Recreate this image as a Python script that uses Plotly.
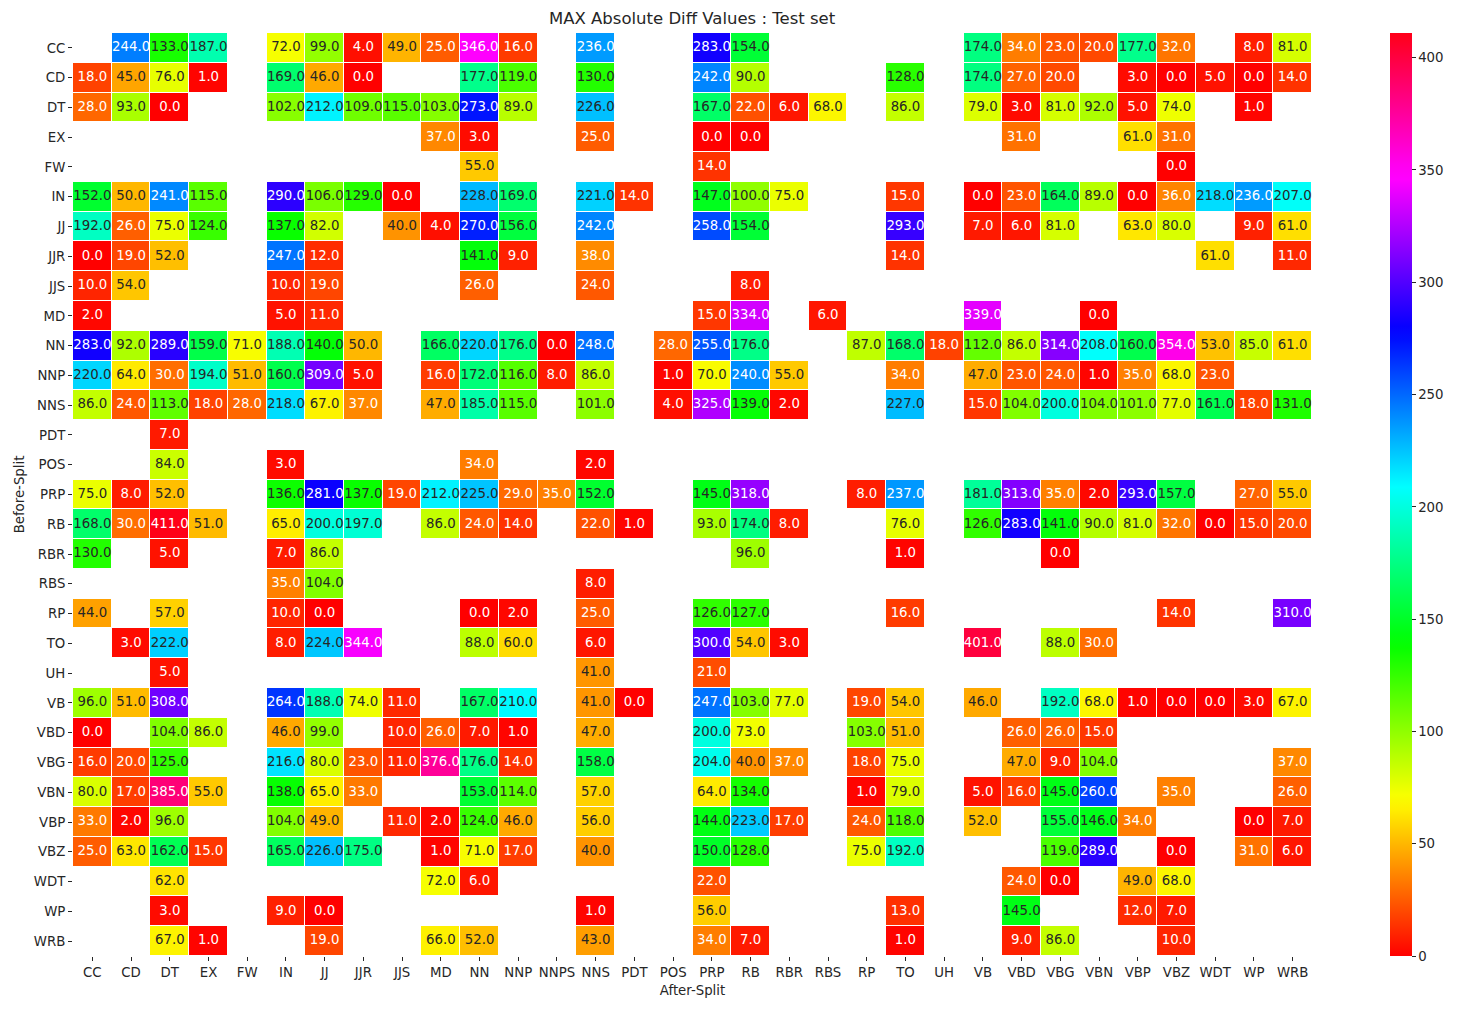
import numpy as np
import plotly.graph_objects as go

# ---------------- data ----------------
after_split = ["CC", "CD", "DT", "EX", "FW", "IN", "JJ", "JJR", "JJS", "MD", "NN", "NNP", "NNPS",
               "NNS", "PDT", "POS", "PRP", "RB", "RBR", "RBS", "RP", "TO", "UH", "VB", "VBD",
               "VBG", "VBN", "VBP", "VBZ", "WDT", "WP", "WRB"]
before_split = ["CC", "CD", "DT", "EX", "FW", "IN", "JJ", "JJR", "JJS", "MD", "NN", "NNP", "NNS",
                "PDT", "POS", "PRP", "RB", "RBR", "RBS", "RP", "TO", "UH", "VB", "VBD", "VBG",
                "VBN", "VBP", "VBZ", "WDT", "WP", "WRB"]

row_CC = {"CD": 244, "DT": 133, "EX": 187, "IN": 72, "JJ": 99, "JJR": 4, "JJS": 49, "MD": 25, "NN": 346,
          "NNP": 16, "NNS": 236, "PRP": 283, "RB": 154, "VB": 174, "VBD": 34, "VBG": 23, "VBN": 20,
          "VBP": 177, "VBZ": 32, "WP": 8, "WRB": 81}
row_CD = {"CC": 18, "CD": 45, "DT": 76, "EX": 1, "IN": 169, "JJ": 46, "JJR": 0, "NN": 177, "NNP": 119,
          "NNS": 130, "PRP": 242, "RB": 90, "TO": 128, "VB": 174, "VBD": 27, "VBG": 20, "VBP": 3,
          "VBZ": 0, "WDT": 5, "WP": 0, "WRB": 14}
row_DT = {"CC": 28, "CD": 93, "DT": 0, "IN": 102, "JJ": 212, "JJR": 109, "JJS": 115, "MD": 103, "NN": 273,
          "NNP": 89, "NNS": 226, "PRP": 167, "RB": 22, "RBR": 6, "RBS": 68, "TO": 86, "VB": 79, "VBD": 3,
          "VBG": 81, "VBN": 92, "VBP": 5, "VBZ": 74, "WP": 1}
row_EX = {"MD": 37, "NN": 3, "NNS": 25, "PRP": 0, "RB": 0, "VBD": 31, "VBP": 61, "VBZ": 31}
row_FW = {"NN": 55, "PRP": 14, "VBZ": 0}
row_IN = {"CC": 152, "CD": 50, "DT": 241, "EX": 115, "IN": 290, "JJ": 106, "JJR": 129, "JJS": 0, "NN": 228,
          "NNP": 169, "NNS": 221, "PDT": 14, "PRP": 147, "RB": 100, "RBR": 75, "TO": 15, "VB": 0,
          "VBD": 23, "VBG": 164, "VBN": 89, "VBP": 0, "VBZ": 36, "WDT": 218, "WP": 236, "WRB": 207}
row_JJ = {"CC": 192, "CD": 26, "DT": 75, "EX": 124, "IN": 137, "JJ": 82, "JJS": 40, "MD": 4, "NN": 270,
          "NNP": 156, "NNS": 242, "PRP": 258, "RB": 154, "TO": 293, "VB": 7, "VBD": 6, "VBG": 81,
          "VBP": 63, "VBZ": 80, "WP": 9, "WRB": 61}
row_JJR = {"CC": 0, "CD": 19, "DT": 52, "IN": 247, "JJ": 12, "NN": 141, "NNP": 9, "NNS": 38, "TO": 14,
           "WDT": 61, "WRB": 11}
row_JJS = {"CC": 10, "CD": 54, "IN": 10, "JJ": 19, "NN": 26, "NNS": 24, "RB": 8}
row_MD = {"CC": 2, "IN": 5, "JJ": 11, "PRP": 15, "RB": 334, "RBS": 6, "VB": 339, "VBN": 0}
row_NN = {"CC": 283, "CD": 92, "DT": 289, "EX": 159, "FW": 71, "IN": 188, "JJ": 140, "JJR": 50, "MD": 166,
          "NN": 220, "NNP": 176, "NNPS": 0, "NNS": 248, "POS": 28, "PRP": 255, "RB": 176, "RP": 87,
          "TO": 168, "UH": 18, "VB": 112, "VBD": 86, "VBG": 314, "VBN": 208, "VBP": 160, "VBZ": 354,
          "WDT": 53, "WP": 85, "WRB": 61}
row_NNP = {"CC": 220, "CD": 64, "DT": 30, "EX": 194, "FW": 51, "IN": 160, "JJ": 309, "JJR": 5, "MD": 16,
           "NN": 172, "NNP": 116, "NNPS": 8, "NNS": 86, "POS": 1, "PRP": 70, "RB": 240, "RBR": 55,
           "TO": 34, "VB": 47, "VBD": 23, "VBG": 24, "VBN": 1, "VBP": 35, "VBZ": 68, "WDT": 23}
row_NNS = {"CC": 86, "CD": 24, "DT": 113, "EX": 18, "FW": 28, "IN": 218, "JJ": 67, "JJR": 37, "MD": 47,
           "NN": 185, "NNP": 115, "NNS": 101, "POS": 4, "PRP": 325, "RB": 139, "RBR": 2, "TO": 227,
           "VB": 15, "VBD": 104, "VBG": 200, "VBN": 104, "VBP": 101, "VBZ": 77, "WDT": 161, "WP": 18,
           "WRB": 131}
row_PDT = {"DT": 7}
row_POS = {"DT": 84, "IN": 3, "NN": 34, "NNS": 2}
row_PRP = {"CC": 75, "CD": 8, "DT": 52, "IN": 136, "JJ": 281, "JJR": 137, "JJS": 19, "MD": 212, "NN": 225,
           "NNP": 29, "NNPS": 35, "NNS": 152, "PRP": 145, "RB": 318, "RP": 8, "TO": 237, "VB": 181,
           "VBD": 313, "VBG": 35, "VBN": 2, "VBP": 293, "VBZ": 157, "WP": 27, "WRB": 55}
row_RB = {"CC": 168, "CD": 30, "DT": 411, "EX": 51, "IN": 65, "JJ": 200, "JJR": 197, "MD": 86, "NN": 24,
          "NNP": 14, "NNS": 22, "PDT": 1, "PRP": 93, "RB": 174, "RBR": 8, "TO": 76, "VB": 126, "VBD": 283,
          "VBG": 141, "VBN": 90, "VBP": 81, "VBZ": 32, "WDT": 0, "WP": 15, "WRB": 20}
row_RBR = {"CC": 130, "DT": 5, "IN": 7, "JJ": 86, "RB": 96, "TO": 1, "VBG": 0}
row_RBS = {"IN": 35, "JJ": 104, "NNS": 8}
row_RP = {"CC": 44, "DT": 57, "IN": 10, "JJ": 0, "NN": 0, "NNP": 2, "NNS": 25, "PRP": 126, "RB": 127,
          "TO": 16, "VBZ": 14, "WRB": 310}
row_TO = {"CD": 3, "DT": 222, "IN": 8, "JJ": 224, "JJR": 344, "NN": 88, "NNP": 60, "NNS": 6, "PRP": 300,
          "RB": 54, "RBR": 3, "VB": 401, "VBG": 88, "VBN": 30}
row_UH = {"DT": 5, "NNS": 41, "PRP": 21}
row_VB = {"CC": 96, "CD": 51, "DT": 308, "IN": 264, "JJ": 188, "JJR": 74, "JJS": 11, "NN": 167, "NNP": 210,
          "NNS": 41, "PDT": 0, "PRP": 247, "RB": 103, "RBR": 77, "RP": 19, "TO": 54, "VB": 46, "VBG": 192,
          "VBN": 68, "VBP": 1, "VBZ": 0, "WDT": 0, "WP": 3, "WRB": 67}
row_VBD = {"CC": 0, "DT": 104, "EX": 86, "IN": 46, "JJ": 99, "JJS": 10, "MD": 26, "NN": 7, "NNP": 1,
           "NNS": 47, "PRP": 200, "RB": 73, "RP": 103, "TO": 51, "VBD": 26, "VBG": 26, "VBN": 15}
row_VBG = {"CC": 16, "CD": 20, "DT": 125, "IN": 216, "JJ": 80, "JJR": 23, "JJS": 11, "MD": 376, "NN": 176,
           "NNP": 14, "NNS": 158, "PRP": 204, "RB": 40, "RBR": 37, "RP": 18, "TO": 75, "VBD": 47,
           "VBG": 9, "VBN": 104, "WRB": 37}
row_VBN = {"CC": 80, "CD": 17, "DT": 385, "EX": 55, "IN": 138, "JJ": 65, "JJR": 33, "NN": 153, "NNP": 114,
           "NNS": 57, "PRP": 64, "RB": 134, "RP": 1, "TO": 79, "VB": 5, "VBD": 16, "VBG": 145, "VBN": 260,
           "VBZ": 35, "WRB": 26}
row_VBP = {"CC": 33, "CD": 2, "DT": 96, "IN": 104, "JJ": 49, "JJS": 11, "MD": 2, "NN": 124, "NNP": 46,
           "NNS": 56, "PRP": 144, "RB": 223, "RBR": 17, "RP": 24, "TO": 118, "VB": 52, "VBG": 155,
           "VBN": 146, "VBP": 34, "WP": 0, "WRB": 7}
row_VBZ = {"CC": 25, "CD": 63, "DT": 162, "EX": 15, "IN": 165, "JJ": 226, "JJR": 175, "MD": 1, "NN": 71,
           "NNP": 17, "NNS": 40, "PRP": 150, "RB": 128, "RP": 75, "TO": 192, "VBG": 119, "VBN": 289,
           "VBZ": 0, "WP": 31, "WRB": 6}
row_WDT = {"DT": 62, "MD": 72, "NN": 6, "PRP": 22, "VBD": 24, "VBG": 0, "VBP": 49, "VBZ": 68}
row_WP = {"DT": 3, "IN": 9, "JJ": 0, "NNS": 1, "PRP": 56, "TO": 13, "VBD": 145, "VBP": 12, "VBZ": 7}
row_WRB = {"DT": 67, "EX": 1, "JJ": 19, "MD": 66, "NN": 52, "NNS": 43, "PRP": 34, "RB": 7, "TO": 1,
           "VBD": 9, "VBG": 86, "VBZ": 10}

rows = [row_CC, row_CD, row_DT, row_EX, row_FW, row_IN, row_JJ, row_JJR, row_JJS, row_MD, row_NN,
        row_NNP, row_NNS, row_PDT, row_POS, row_PRP, row_RB, row_RBR, row_RBS, row_RP, row_TO, row_UH,
        row_VB, row_VBD, row_VBG, row_VBN, row_VBP, row_VBZ, row_WDT, row_WP, row_WRB]

z = [[r.get(c) for c in after_split] for r in rows]
zmax = max(v for r in rows for v in r.values())

# ---------------- matplotlib "hsv" colormap ----------------
bp = [0.0, 0.158730, 0.174603, 0.333333, 0.349206, 0.507937, 0.666667, 0.682540, 0.841270, 0.857143, 1.0]
R = [1, 1, 0.96875, 0.03125, 0, 0, 0, 0.03125, 1, 1, 1]
G = [0, 0.9375, 1, 1, 1, 1, 0.0625, 0, 0, 0, 0]
B = [0, 0, 0, 0, 0.0625, 1, 1, 1, 1, 0.9375, 0.09375]
colorscale = [[p, f"rgb({round(r*255)},{round(g*255)},{round(b*255)})"] for p, r, g, b in zip(bp, R, G, B)]


def lum(v):
    t = v / zmax
    rgb = [np.interp(t, bp, ch) for ch in (R, G, B)]
    lin = [c / 12.92 if c <= 0.03928 else ((c + 0.055) / 1.055) ** 2.4 for c in rgb]
    return 0.2126 * lin[0] + 0.7152 * lin[1] + 0.0722 * lin[2]


tx, ty, tt, tc = [], [], [], []
for rname, r in zip(before_split, rows):
    for c in after_split:
        v = r.get(c)
        if v is None:
            continue
        tx.append(c)
        ty.append(rname)
        tt.append(f"{v:.1f}")
        tc.append("#262626" if lum(v) > 0.408 else "white")

FONT = "DejaVu Sans"
fig = go.Figure()
fig.add_trace(go.Heatmap(
    z=z, x=after_split, y=before_split, colorscale=colorscale, zmin=0, zmax=zmax,
    xgap=1, ygap=1, hoverongaps=False,
    colorbar=dict(
        x=1.063, xref="paper", xanchor="left", xpad=0, ypad=0,
        len=1, lenmode="fraction", y=0.5, yanchor="middle",
        thickness=22, outlinewidth=0,
        tickvals=list(range(0, 401, 50)), ticks="outside", ticklen=4, tickcolor="#262626",
        tickfont=dict(family=FONT, size=13.3, color="#262626"),
    ),
))
fig.add_trace(go.Scatter(
    x=tx, y=ty, text=tt, mode="text", textposition="middle center",
    textfont=dict(family=FONT, size=13.3, color=tc), hoverinfo="skip", showlegend=False,
))

fig.update_layout(
    width=1482, height=1009,
    margin=dict(l=73, r=170, t=33, b=53),
    paper_bgcolor="white", plot_bgcolor="white",
    title=dict(text="MAX Absolute Diff Values : Test set", x=0.467, xanchor="center",
               y=1 - 18 / 1009, yanchor="middle", font=dict(family=FONT, size=16.5, color="#262626")),
    font=dict(family=FONT, color="#262626"),
)
fig.update_xaxes(
    type="category", categoryorder="array", categoryarray=after_split, range=[-0.5, len(after_split) - 0.5],
    showgrid=False, zeroline=False, showline=False, ticks="outside", ticklen=4, tickcolor="#262626",
    tickangle=0, tickfont=dict(family=FONT, size=13.3, color="#262626"),
    title=dict(text="After-Split", standoff=6, font=dict(family=FONT, size=13.3, color="#262626")),
)
fig.update_yaxes(
    type="category", categoryorder="array", categoryarray=before_split,
    range=[len(before_split) - 0.5, -0.5],
    showgrid=False, zeroline=False, showline=False, ticks="outside", ticklen=4, tickcolor="#262626",
    tickfont=dict(family=FONT, size=13.3, color="#262626"),
    title=dict(text="Before-Split", standoff=6, font=dict(family=FONT, size=13.3, color="#262626")),
)

fig.write_html("out.html")
